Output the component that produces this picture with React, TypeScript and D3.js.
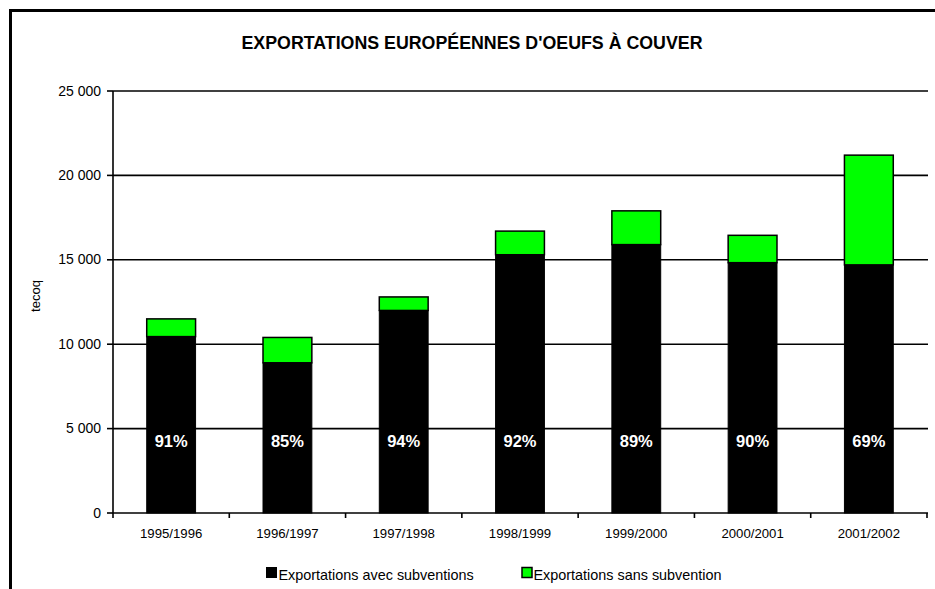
import React from "react";
import * as d3 from "d3";

const categories = ["1995/1996", "1996/1997", "1997/1998", "1998/1999", "1999/2000", "2000/2001", "2001/2002"];
const avecSubventions = [10450, 8900, 12000, 15300, 15900, 14830, 14700];
const sansSubvention = [1050, 1500, 800, 1400, 2000, 1620, 6500];
const percentLabels = ["91%", "85%", "94%", "92%", "89%", "90%", "69%"];
const yTicks = [0, 5000, 10000, 15000, 20000, 25000];
const seriesNames = ["Exportations avec subventions", "Exportations sans subvention"];
const seriesColors = ["#000000", "#00ff00"];
const title = "EXPORTATIONS EUROPÉENNES D'OEUFS À COUVER";
const yTitle = "tecoq";

const W = 935;
const H = 589;
const FONT = "'Liberation Sans', Arial, sans-serif";

export default function App() {
  const left = 113;
  const right = 927;
  const top = 91;
  const bottom = 513;

  const x = d3.scaleBand<string>().domain(categories).range([left, right]).paddingInner(0.58).paddingOuter(0.29);
  const y = d3.scaleLinear().domain([0, 25000]).range([bottom, top]);
  const fmt = (v: number) => d3.format(",")(v).replace(/,/g, " ");

  const rows = categories.map((c, i) => ({ c, a: avecSubventions[i], s: sansSubvention[i], p: percentLabels[i] }));
  const step = (right - left) / categories.length;

  return (
    <svg width={W} height={H} style={{ position: "absolute", left: 0, top: 0, background: "#fff" }} fontFamily={FONT}>
      <rect x={0} y={0} width={W} height={H} fill="#fff" />
      {/* frame */}
      <line x1={10.5} y1={10.5} x2={W} y2={10.5} stroke="#000" strokeWidth={3} />
      <line x1={10.5} y1={9} x2={10.5} y2={H} stroke="#000" strokeWidth={3} />

      <text x={472} y={49} textAnchor="middle" fontWeight="bold" fontSize={17.8} fill="#000">{title}</text>

      {/* grid */}
      {yTicks.filter(t => t > 0).map(t => (
        <line key={t} x1={left} x2={right + 1} y1={y(t)} y2={y(t)} stroke="#000" strokeWidth={1.6} />
      ))}

      {/* bars */}
      {rows.map(r => {
        const bx = x(r.c)!;
        const bw = x.bandwidth();
        return (
          <g key={r.c}>
            <rect x={bx} y={y(r.a)} width={bw} height={y(0) - y(r.a)} fill={seriesColors[0]} stroke="#000" strokeWidth={1} />
            <rect x={bx} y={y(r.a + r.s)} width={bw} height={y(r.a) - y(r.a + r.s)} fill={seriesColors[1]} stroke="#000" strokeWidth={1.5} />
            <text x={bx + bw / 2} y={447} textAnchor="middle" fontWeight="bold" fontSize={16.5} fill="#fff">{r.p}</text>
          </g>
        );
      })}

      {/* y axis */}
      <line x1={left} x2={left} y1={top} y2={bottom} stroke="#000" strokeWidth={1.6} />
      {yTicks.map(t => (
        <g key={t}>
          <line x1={left - 6} x2={left} y1={y(t)} y2={y(t)} stroke="#000" strokeWidth={1.6} />
          <text x={101} y={y(t) + 4.5} textAnchor="end" fontSize={14} fill="#000">{fmt(t)}</text>
        </g>
      ))}
      <text transform={`translate(40,296) rotate(-90)`} textAnchor="middle" fontSize={13} fill="#000">{yTitle}</text>

      {/* x axis */}
      <line x1={left} x2={right + 1} y1={bottom} y2={bottom} stroke="#000" strokeWidth={1.6} />
      {d3.range(categories.length + 1).map(i => (
        <line key={i} x1={left + i * step} x2={left + i * step} y1={bottom} y2={bottom + 5} stroke="#000" strokeWidth={1.6} />
      ))}
      {categories.map(c => (
        <text key={c} x={x(c)! + x.bandwidth() / 2} y={538} textAnchor="middle" fontSize={13.2} fill="#000">{c}</text>
      ))}

      {/* legend */}
      <rect x={266.5} y={567.5} width={10} height={10} fill={seriesColors[0]} stroke="#000" strokeWidth={1} />
      <text x={278.5} y={580} fontSize={14.4} fill="#000">{seriesNames[0]}</text>
      <rect x={522} y={567.5} width={10} height={10} fill={seriesColors[1]} stroke="#000" strokeWidth={1.5} />
      <text x={533.5} y={580} fontSize={14.4} fill="#000">{seriesNames[1]}</text>
    </svg>
  );
}
